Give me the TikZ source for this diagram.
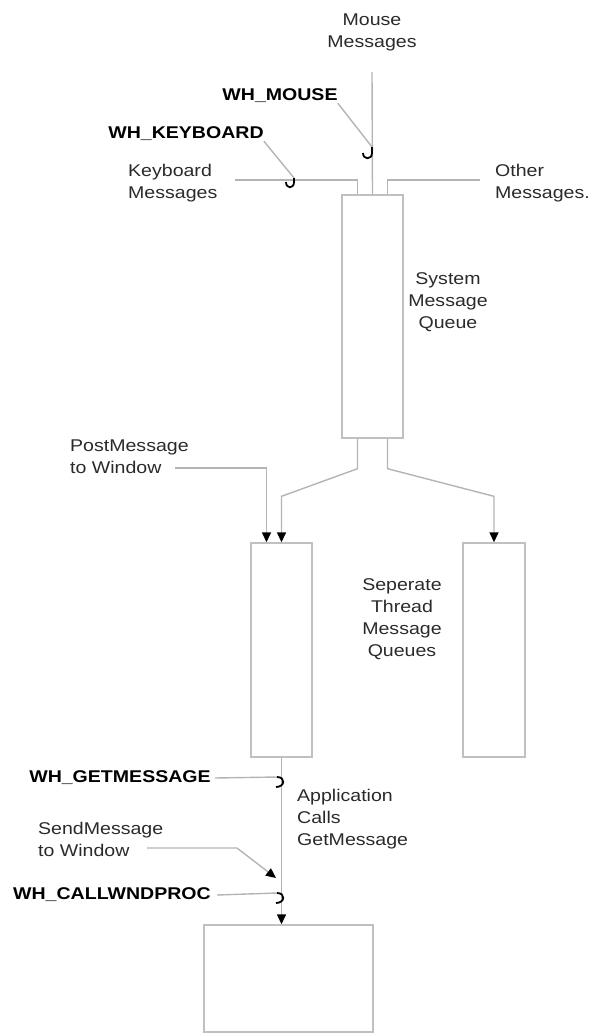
\documentclass[tikz,border=0pt]{standalone}
\usepackage{fontspec}
\setmainfont{Liberation Sans}[FakeStretch=1.15]
\usepackage{xcolor}
\usepackage{tikz}
\usetikzlibrary{positioning,calc,arrows.meta}

\definecolor{wiregray}{HTML}{B4B4B4}
\definecolor{boxgray}{HTML}{C0C0C0}
\definecolor{textgray}{HTML}{2A2A2A}

\tikzset{
    qbox/.style={draw=boxgray, line width=1.4pt, minimum width=61pt, inner sep=0pt},
    wire/.style={draw=wiregray, line width=1.4pt},
    arr/.style={-{Triangle[width=9pt,length=10pt,color=black]}},
    hook/.style={draw=black, line width=1.8pt},
    lab/.style={inner sep=0pt, text=textgray, font=\fontsize{17}{22}\selectfont},
    hookname/.style={inner sep=0pt, text=black, font=\fontsize{17}{22}\selectfont\bfseries}
}

\begin{document}
\begin{tikzpicture}[x=1pt, y=-1pt]
    \useasboundingbox (0,0) rectangle (596,1036);

    % queues
    \node[qbox, minimum height=243pt] (sysq) at (372.5,316.5) {};
    \node[qbox, minimum height=214pt] (thrA) at (281.5,650) {};
    \node[qbox, minimum height=214pt, minimum width=62pt] (thrB) at (494,650) {};
    \node[qbox, minimum width=169pt, minimum height=107pt] (app) at (288.5,978.5) {};

    % labels
    \node[lab, align=center] (mouse) at (372,32) {Mouse\\Messages};
    \node[lab, align=left, anchor=west] (kbd) at (128,183) {Keyboard\\Messages};
    \node[lab, align=left, anchor=west] (other) at (495,183) {Other\\Messages.};
    \node[lab, align=center] (sysqlabel) at (448,302) {System\\Message\\Queue};
    \node[lab, align=left, anchor=west] (post) at (70,457) {PostMessage\\to Window};
    \node[lab, align=center] (sepq) at (402,619) {Seperate\\Thread\\Message\\Queues};
    \node[lab, align=left, anchor=west] (appcalls) at (297,819) {Application\\Calls\\GetMessage};
    \node[lab, align=left, anchor=west] (send) at (38,839) {SendMessage\\to Window};

    % hook names
    \node[hookname] (whmouse) at (280,96) {WH\_MOUSE};
    \node[hookname] (whkbd) at (186,134) {WH\_KEYBOARD};
    \node[hookname] (whget) at (120,778) {WH\_GETMESSAGE};
    \node[hookname] (whcall) at (112,895) {WH\_CALLWNDPROC};

    % free ends
    \coordinate (mousein) at (372,72);
    \coordinate (kbdin) at (235,180);
    \coordinate (otherin) at (480,180);
    \coordinate (postout) at (175,468);
    \coordinate (sendout) at (147,848);
    \coordinate (sendin) at (276,878);
    \coordinate (hkmouse) at (372,147);
    \coordinate (hkkbd) at (294,178);
    \coordinate (hkget) at (277,777);
    \coordinate (hkcall) at (277,893);

    % messages into the system queue
    \draw[wire] (mousein) -- (sysq.north);
    \draw[wire] (kbdin) -| ($(sysq.north)+(-15,0)$);
    \draw[wire] (otherin) -| ($(sysq.north)+(15,0)$);

    % system queue to thread queues
    \draw[wire, arr] ($(sysq.south)+(-15,0)$) -- ++(0,30) -- ($(thrA.north)+(0,-46)$) -- (thrA.north);
    \draw[wire, arr] ($(sysq.south)+(15,0)$) -- ++(0,30) -- ($(thrB.north)+(0,-46)$) -- (thrB.north);
    \draw[wire, arr] (postout) -| ($(thrA.north)+(-15,0)$);

    % thread queue to window procedure
    \draw[wire, arr] (thrA.south) -- (thrA.south |- app.north);
    \draw[wire, arr] (sendout) -- (237,848) -- (sendin);

    % hooks
    \draw[wire] (whmouse.south east) -- (hkmouse);
    \draw[wire] (whkbd.south east) -- (hkkbd);
    \draw[wire] (whget.east) ++(4,0) -- (hkget);
    \draw[wire] (whcall.east) ++(6,0) -- (hkcall);
    \draw[hook] (hkmouse) -- ++(0,6) .. controls ++(0,7) and ++(0,7) .. ++(-9,0);
    \draw[hook] (hkkbd) -- ++(0,4) .. controls ++(0,7) and ++(0,7) .. ++(-8,0);
    \draw[hook] (hkget) .. controls ++(9,0) and ++(9,0) .. ++(-1,10);
    \draw[hook] (hkcall) .. controls ++(9,0) and ++(9,0) .. ++(-1,10);
\end{tikzpicture}
\end{document}
